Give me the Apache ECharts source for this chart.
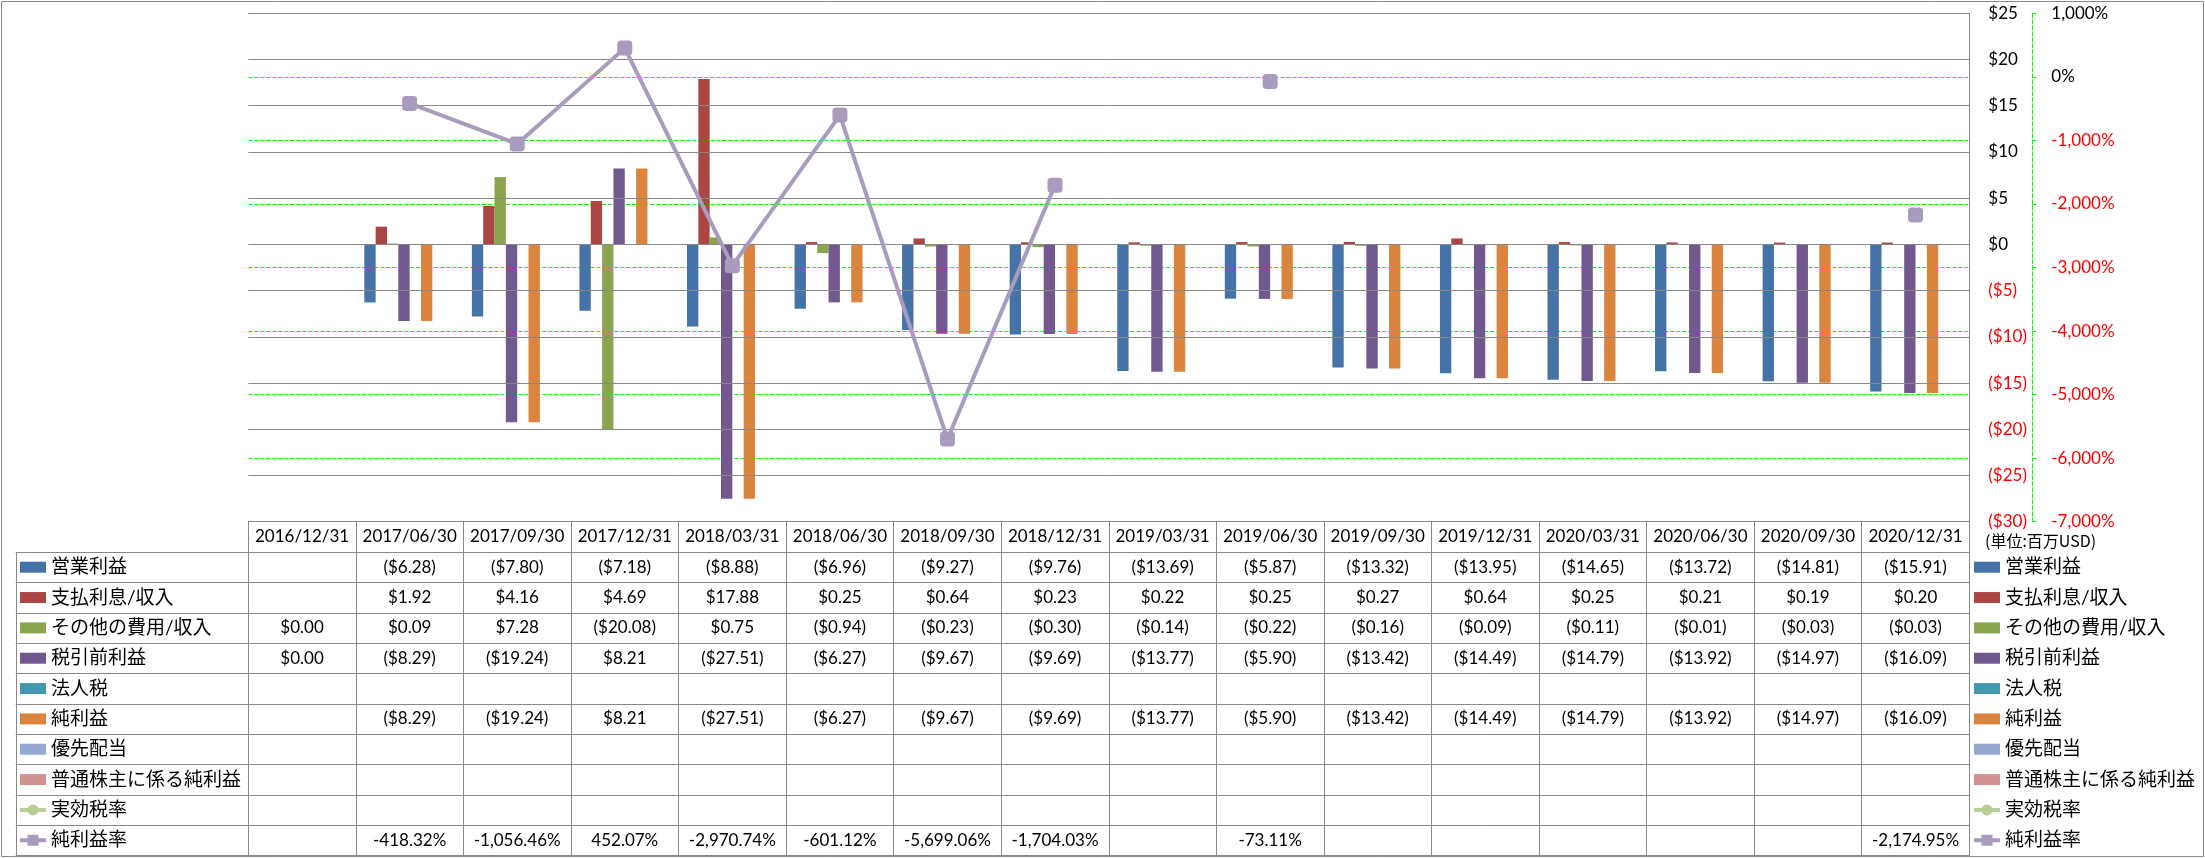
<!DOCTYPE html>
<html><head><meta charset="utf-8">
<script src="https://cdn.jsdelivr.net/npm/echarts@6.0.0/dist/echarts.min.js"></script>
<style>html,body{margin:0;padding:0;background:#fff}#c{width:2205px;height:858px}</style>
</head><body><div id="c"></div>
<script>
// ---------- data ----------
const categories = ['2016/12/31','2017/06/30','2017/09/30','2017/12/31','2018/03/31','2018/06/30','2018/09/30','2018/12/31','2019/03/31','2019/06/30','2019/09/30','2019/12/31','2020/03/31','2020/06/30','2020/09/30','2020/12/31'];
const operatingIncome = [null,-6.28,-7.80,-7.18,-8.88,-6.96,-9.27,-9.76,-13.69,-5.87,-13.32,-13.95,-14.65,-13.72,-14.81,-15.91];
const interestIncome  = [null,1.92,4.16,4.69,17.88,0.25,0.64,0.23,0.22,0.25,0.27,0.64,0.25,0.21,0.19,0.20];
const otherIncome     = [0.00,0.09,7.28,-20.08,0.75,-0.94,-0.23,-0.30,-0.14,-0.22,-0.16,-0.09,-0.11,-0.01,-0.03,-0.03];
const pretaxIncome    = [0.00,-8.29,-19.24,8.21,-27.51,-6.27,-9.67,-9.69,-13.77,-5.90,-13.42,-14.49,-14.79,-13.92,-14.97,-16.09];
const incomeTax       = [null,null,null,null,null,null,null,null,null,null,null,null,null,null,null,null];
const netIncome       = [null,-8.29,-19.24,8.21,-27.51,-6.27,-9.67,-9.69,-13.77,-5.90,-13.42,-14.49,-14.79,-13.92,-14.97,-16.09];
const preferredDiv    = [null,null,null,null,null,null,null,null,null,null,null,null,null,null,null,null];
const commonNetIncome = [null,null,null,null,null,null,null,null,null,null,null,null,null,null,null,null];
const effectiveTaxRate= [null,null,null,null,null,null,null,null,null,null,null,null,null,null,null,null];
const netMargin       = [null,-418.32,-1056.46,452.07,-2970.74,-601.12,-5699.06,-1704.03,null,-73.11,null,null,null,null,null,-2174.95];

const barNames  = ['営業利益','支払利息/収入','その他の費用/収入','税引前利益','法人税','純利益','優先配当','普通株主に係る純利益'];
const barData   = [operatingIncome,interestIncome,otherIncome,pretaxIncome,incomeTax,netIncome,preferredDiv,commonNetIncome];
const barColors = ['#4572A7','#AA4643','#89A54E','#71588F','#4198AF','#DB843D','#93A9CF','#D19392'];
const lineNames = ['実効税率','純利益率'];
const lineData  = [effectiveTaxRate, netMargin];
const lineColors= ['#B9CD96','#A99BBD'];
const lineSymbols = ['circle','roundRect'];
const unitText = '(単位:百万USD)';

// ---------- layout ----------
const W = 2205, H = 858;
const PL = 248.3, PR = 1969.3, PT = 13.3, PB = 521.7;
const ROW_H = 30.34, TABLE_LEFT = 15.7;
const GRID_COL = '#888888';
const NUM_FONT = 'Lato, "Noto Sans CJK JP", sans-serif';
const JP_FONT = 'Lato, "Noto Sans CJK JP", sans-serif';

function money(v){ if(v==null) return ''; const a=Math.abs(v).toFixed(2); return v<0?'($'+a+')':'$'+a; }
function commas(s){ const p=s.split('.'); p[0]=p[0].replace(/\B(?=(\d{3})+(?!\d))/g, ','); return p.join('.'); }
function pct(v){ if(v==null) return ''; return (v<0?'-':'')+commas(Math.abs(v).toFixed(2))+'%'; }

const tableRows = barData.concat(lineData);
const tableFmt = barData.map(()=>money).concat([pct,pct]);

const xAxes = [{
  type:'category', data:categories, position:'bottom', boundaryGap:true,
  axisLine:{show:true,onZero:false,lineStyle:{color:GRID_COL,width:1}},
  axisTick:{show:true,interval:0,length:855.7-PB,lineStyle:{color:GRID_COL,width:1}},
  axisLabel:{interval:0,margin:15.3,verticalAlign:'middle',fontFamily:NUM_FONT,fontSize:17,color:'#000',hideOverlap:false},
  splitLine:{show:false}
}];
tableRows.forEach((row,i)=>{
  xAxes.push({
    type:'category', data:categories, position:'bottom', offset:ROW_H*(i+1),
    axisLine:{show:false}, axisTick:{show:false}, splitLine:{show:false},
    axisLabel:{interval:0,margin:ROW_H/2,verticalAlign:'middle',fontFamily:NUM_FONT,fontSize:17,color:'#000',hideOverlap:false,
      formatter:(val,idx)=>tableFmt[i](row[idx])}
  });
});

const series = [];
barNames.forEach((n,i)=>{
  series.push({name:n,type:'bar',xAxisIndex:0,yAxisIndex:0,data:barData[i],
    barGap:'0%',barCategoryGap:'15.7%',itemStyle:{color:barColors[i]}});
});
lineNames.forEach((n,i)=>{
  series.push({name:n,type:'line',xAxisIndex:0,yAxisIndex:1,data:lineData[i],z:5,
    symbol:lineSymbols[i],symbolSize:15,connectNulls:false,
    lineStyle:{color:lineColors[i],width:4},itemStyle:{color:lineColors[i]}});
});

const lineIcons = [
  'path://M0,3.5h26v4h-26Z M7.5,5.5a5.5,5.5 0 1,1 11,0a5.5,5.5 0 1,1 -11,0Z',
  'path://M0,3.5h26v4h-26Z M7.5,0h11v11h-11Z'
];
const legendData = barNames.map(n=>({name:n,icon:'rect'})).concat(lineNames.map((n,i)=>({
  name:n,icon:lineIcons[i],itemStyle:{color:lineColors[i],borderWidth:0,borderColor:'transparent'}
})));
const legendCommon = {orient:'vertical',padding:0,itemGap:ROW_H-20,itemWidth:26,itemHeight:11,selectedMode:false,
  textStyle:{fontFamily:JP_FONT,fontSize:19,lineHeight:20,color:'#000'},data:legendData};

// table decoration lines (label column + row separators)
const graphics = [];
for(let k=0;k<=10;k++){
  const y = Math.round(PB + ROW_H*(k+1)) + 0.5;
  graphics.push({type:'line',shape:{x1:TABLE_LEFT,y1:y,x2:PR,y2:y},style:{stroke:GRID_COL,lineWidth:1},silent:true});
}
graphics.push({type:'line',shape:{x1:Math.round(TABLE_LEFT)+0.5,y1:PB+ROW_H,x2:Math.round(TABLE_LEFT)+0.5,y2:855.7},style:{stroke:GRID_COL,lineWidth:1},silent:true});
graphics.push({type:'rect',shape:{x:1.5,y:1.5,width:W-3,height:H-3},style:{fill:null,stroke:GRID_COL,lineWidth:1},silent:true});
graphics.push({type:'text',left:1985,top:533,style:{text:unitText,fontFamily:'"Noto Sans CJK JP", sans-serif',fontSize:16,fill:'#000'},silent:true});

const option = {
  animation:false,
  backgroundColor:'#fff',
  grid:{left:PL,right:W-PR,top:PT,bottom:H-PB,containLabel:false,outerBoundsMode:'none',show:false},
  legend:[
    Object.assign({left:20,top:PB+ROW_H+ROW_H/2-10},legendCommon),
    Object.assign({left:1974,top:PB+ROW_H+ROW_H/2-10},legendCommon)
  ],
  xAxis:xAxes,
  yAxis:[
    {type:'value',position:'right',min:-30,max:25,interval:5,z:3,
      axisLine:{show:true,onZero:false,lineStyle:{color:GRID_COL,width:1}},axisTick:{show:false},
      splitLine:{show:true,lineStyle:{color:GRID_COL,width:1}},
      axisLabel:{margin:19,fontFamily:NUM_FONT,fontSize:17,
        formatter:v=> v<0?'($'+(-v)+')':'$'+v,
        color:v=> (+v<0?'#FF0000':'#000')}},
    {type:'value',position:'right',offset:2032.3-PR,min:-7000,max:1000,interval:1000,
      axisLine:{show:true,onZero:false,lineStyle:{color:'#00FF00',width:1,type:[4,2]}},
      axisTick:{show:true,length:4,lineStyle:{color:'#00FF00',width:1}},
      splitLine:{show:true,showMinLine:false,showMaxLine:false,lineStyle:{color:'#00FF00',width:1,type:[4,2]}},
      axisLabel:{margin:19,fontFamily:NUM_FONT,fontSize:17,
        formatter:v=> (v<0?'-':'')+commas(String(Math.abs(v)))+'%',
        color:v=> (+v<0?'#FF0000':'#000')}}
  ],
  graphic:graphics,
  series:series
};
const chart = echarts.init(document.getElementById('c'),null,{renderer:'canvas'});
chart.setOption(option);
</script></body></html>
